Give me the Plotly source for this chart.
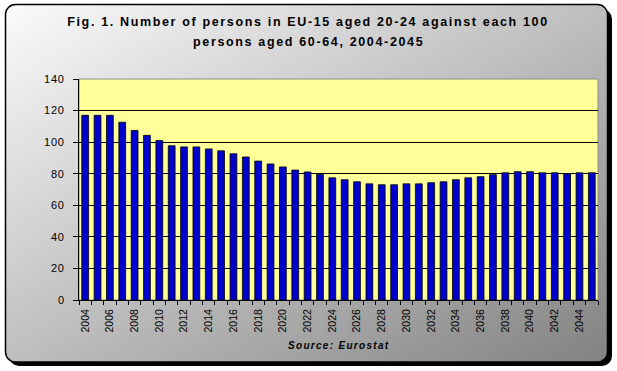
import plotly.graph_objects as go
import urllib.parse

years = [str(y) for y in range(2004, 2046)]
values = [117, 117, 117, 112.6, 107.4, 104.3, 101, 97.7, 97, 97,
          95.7, 94.5, 92.6, 90.6, 88, 86.2, 84.3, 82.3, 81.1, 79.6,
          77.4, 76.2, 74.9, 73.6, 73, 73, 73.6, 73.6, 74.3, 74.9,
          76.2, 77.4, 78.1, 79.4, 80.6, 81.3, 81.3, 80.6, 80.6, 80,
          80.6, 80.6]
tick_labels = [y if int(y) % 2 == 0 else "" for y in years]
y_ticks = [0, 20, 40, 60, 80, 100, 120, 140]

title_line1 = "Fig. 1. Number of persons in EU-15 aged 20-24 against each 100"
title_line2 = "persons aged 60-64, 2004-2045"
source_text = "Source: Eurostat"

W, H = 617, 371
ML, MR, MT, MB = 79, 19, 79, 71
PW, PH = W - ML - MR, H - MT - MB


def px_x(px):
    return (px - ML) / PW


def px_y(py):
    return (MT + PH - py) / PH


def spaced(t, ls):
    return f"<span style='letter-spacing:{ls}px'>{t}</span>"


svg = f'''<svg xmlns="http://www.w3.org/2000/svg" width="{W}" height="{H}" viewBox="0 0 {W} {H}">
<defs><linearGradient id="g" x1="0" y1="0" x2="1" y2="1">
<stop offset="0" stop-color="#fbfbfb"/><stop offset="1" stop-color="#828282"/></linearGradient></defs>
<rect x="9" y="9" width="603" height="357" rx="10" ry="10" fill="#000"/>
<rect x="5.5" y="4.5" width="602" height="357.5" rx="10" ry="10" fill="url(#g)" stroke="#000" stroke-width="1.5"/>
</svg>'''
src = "data:image/svg+xml;charset=utf-8," + urllib.parse.quote(svg)

title_font = dict(size=12.5, family="Liberation Sans, Arial", weight="bold", color="#000")

fig = go.Figure()
fig.add_trace(go.Bar(
    x=years, y=values,
    marker=dict(color="#0000CC", line=dict(color="#000000", width=0.8)),
))

fig.update_layout(
    width=W, height=H,
    margin=dict(l=ML, r=MR, t=MT, b=MB),
    paper_bgcolor="white",
    plot_bgcolor="#FFFF99",
    showlegend=False,
    bargap=0.45,
    font=dict(family="Liberation Sans, Arial", color="#000000"),
    title=dict(text=spaced(title_line1, 1.65), x=308 / W, xref="container", xanchor="center",
               y=1 - 22 / H, yref="container", yanchor="middle", font=title_font),
    images=[dict(source=src, xref="paper", yref="paper",
                 x=-ML / PW, y=1 + MT / PH, sizex=W / PW, sizey=H / PH,
                 xanchor="left", yanchor="top", sizing="stretch", layer="below")],
    shapes=[dict(type="rect", xref="paper", yref="paper", x0=0, x1=1, y0=0, y1=1,
                 fillcolor="#FFFF99", line=dict(color="#8c8c8c", width=1), layer="below")],
    annotations=[
        dict(text=spaced(title_line2, 1.65), xref="paper", yref="paper",
             x=px_x(308), y=px_y(42), xanchor="center", yanchor="middle",
             showarrow=False, font=title_font),
        dict(text=spaced("<i>" + source_text + "</i>", 1.3), xref="paper", yref="paper",
             x=px_x(338), y=px_y(345), xanchor="center", yanchor="middle", showarrow=False,
             font=dict(size=10, family="Liberation Sans, Arial", weight="bold", color="#000")),
    ],
)

fig.update_xaxes(
    type="category",
    tickvals=years, ticktext=tick_labels,
    tickangle=-90,
    ticks="outside", ticklen=4, tickcolor="#000", tickson="boundaries",
    ticklabelstandoff=4,
    showline=True, linecolor="#000", linewidth=1,
    showgrid=False,
    tickfont=dict(size=10.5, family="Liberation Sans, Arial", color="#000"),
)
fig.update_yaxes(
    range=[0, 140], tickvals=y_ticks,
    ticktext=[spaced(str(v), 0.8) for v in y_ticks],
    ticks="outside", ticklen=5, tickcolor="#000",
    ticklabelstandoff=6,
    showline=True, linecolor="#000", linewidth=1,
    showgrid=True, gridcolor="#000", gridwidth=1,
    zeroline=False,
    tickfont=dict(size=11, family="Liberation Sans, Arial", color="#000"),
)

fig.write_html("out.html", config={"displayModeBar": False},
               post_script="document.body.style.margin='0';document.body.style.padding='0';")
